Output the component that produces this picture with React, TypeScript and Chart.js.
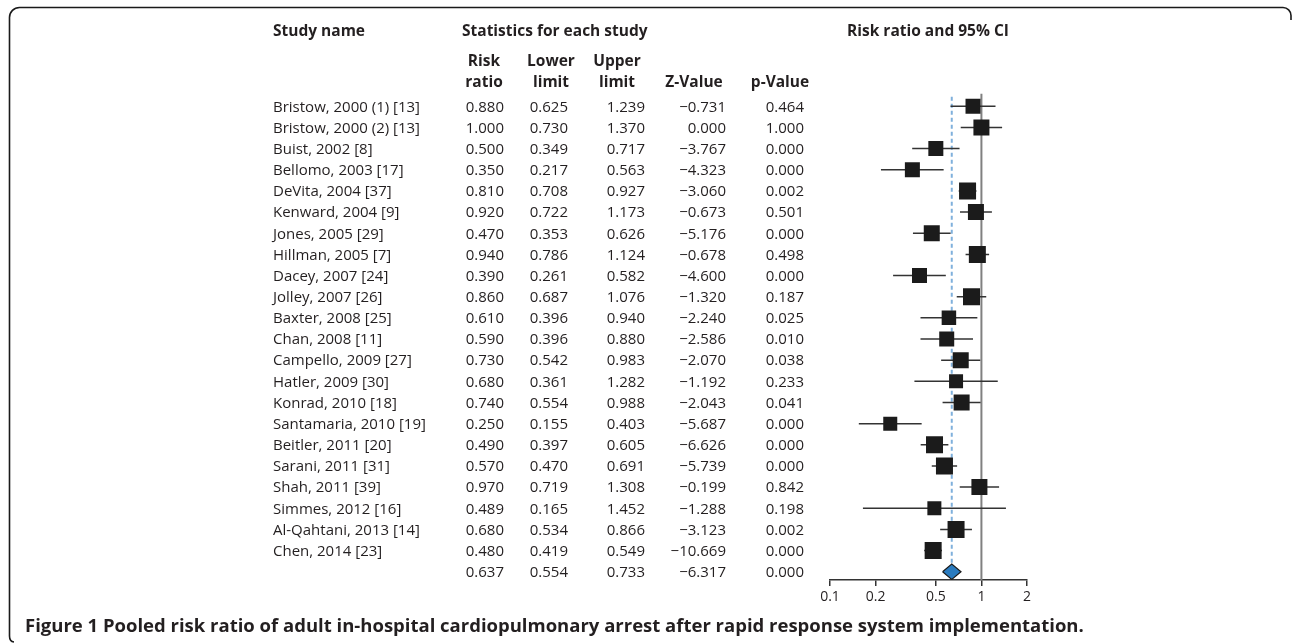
import React, { useEffect, useRef } from 'react';
import { Chart, registerables } from 'chart.js';

Chart.register(...registerables);

// ---------------- data ----------------
const studies = [
  'Bristow, 2000 (1) [13]',
  'Bristow, 2000 (2) [13]',
  'Buist, 2002 [8]',
  'Bellomo, 2003 [17]',
  'DeVita, 2004 [37]',
  'Kenward, 2004 [9]',
  'Jones, 2005 [29]',
  'Hillman, 2005 [7]',
  'Dacey, 2007 [24]',
  'Jolley, 2007 [26]',
  'Baxter, 2008 [25]',
  'Chan, 2008 [11]',
  'Campello, 2009 [27]',
  'Hatler, 2009 [30]',
  'Konrad, 2010 [18]',
  'Santamaria, 2010 [19]',
  'Beitler, 2011 [20]',
  'Sarani, 2011 [31]',
  'Shah, 2011 [39]',
  'Simmes, 2012 [16]',
  'Al-Qahtani, 2013 [14]',
  'Chen, 2014 [23]',
];
const riskRatio = [0.88, 1.0, 0.5, 0.35, 0.81, 0.92, 0.47, 0.94, 0.39, 0.86, 0.61, 0.59, 0.73, 0.68, 0.74, 0.25, 0.49, 0.57, 0.97, 0.489, 0.68, 0.48];
const lowerLimit = [0.625, 0.73, 0.349, 0.217, 0.708, 0.722, 0.353, 0.786, 0.261, 0.687, 0.396, 0.396, 0.542, 0.361, 0.554, 0.155, 0.397, 0.47, 0.719, 0.165, 0.534, 0.419];
const upperLimit = [1.239, 1.37, 0.717, 0.563, 0.927, 1.173, 0.626, 1.124, 0.582, 1.076, 0.94, 0.88, 0.983, 1.282, 0.988, 0.403, 0.605, 0.691, 1.308, 1.452, 0.866, 0.549];
const zValue = [-0.731, 0.0, -3.767, -4.323, -3.06, -0.673, -5.176, -0.678, -4.6, -1.32, -2.24, -2.586, -2.07, -1.192, -2.043, -5.687, -6.626, -5.739, -0.199, -1.288, -3.123, -10.669];
const pValue = [0.464, 1.0, 0.0, 0.0, 0.002, 0.501, 0.0, 0.498, 0.0, 0.187, 0.025, 0.01, 0.038, 0.233, 0.041, 0.0, 0.0, 0.0, 0.842, 0.198, 0.002, 0.0];
// square side (relative study weight), px
const squareSide = [15, 16, 15, 15, 17, 16, 16, 17, 15, 17, 14.5, 15, 16, 14, 16, 14, 17, 17, 16, 14, 17, 17];
// pooled: risk ratio, lower, upper
const pooledCI = [0.637, 0.554, 0.733];
const pooledZ = -6.317;
const pooledP = 0.0;
const xTicks = [0.1, 0.2, 0.5, 1, 2];

const FONT = '"Open Sans", "Noto Sans", sans-serif';
const TEXT = '#231f20';
const POOLED_ROW = studies.length; // 22
const Y_MIN = -0.6;
const Y_MAX = POOLED_ROW + 0.39;

const fmt = (v: number) => (v < 0 ? '\u2212' : '') + Math.abs(v).toFixed(3);

const tablePlugin = {
  id: 'forestTable',
  beforeDraw(chart: any) {
    const ctx = chart.ctx as CanvasRenderingContext2D;
    ctx.save();
    // frame
    ctx.strokeStyle = '#1a1a1a';
    ctx.lineWidth = 1.6;
    ctx.beginPath();
    ctx.moveTo(14, 642);
    ctx.quadraticCurveTo(9.5, 641.5, 9.5, 636);
    ctx.lineTo(9.5, 18);
    ctx.arcTo(9.5, 7.5, 20, 7.5, 10);
    ctx.lineTo(1283, 7.5);
    ctx.arcTo(1291, 7.5, 1291, 16, 8);
    ctx.lineTo(1291, 20);
    ctx.stroke();
    ctx.restore();
  },
  afterDraw(chart: any) {
    const ctx = chart.ctx as CanvasRenderingContext2D;
    const y = chart.scales.y;
    ctx.save();
    ctx.fillStyle = TEXT;
    ctx.textBaseline = 'middle';
    const put = (s: string, x: number, yy: number, align: CanvasTextAlign, bold = false, size = 15) => {
      ctx.font = `${bold ? 'bold ' : ''}${size}px ${FONT}`;
      ctx.textAlign = align;
      ctx.fillText(s, x, yy);
    };
    // headers
    const hs = 15.5;
    put('Study name', 273, 32, 'left', true, hs);
    put('Statistics for each study', 462, 32, 'left', true, hs);
    put('Risk ratio and 95% CI', 928, 32, 'center', true, hs);
    put('Risk', 484, 62, 'center', true, hs);
    put('ratio', 484, 83, 'center', true, hs);
    put('Lower', 551, 62, 'center', true, hs);
    put('limit', 551, 83, 'center', true, hs);
    put('Upper', 617, 62, 'center', true, hs);
    put('limit', 617, 83, 'center', true, hs);
    put('Z-Value', 694, 83, 'center', true, hs);
    put('p-Value', 780, 83, 'center', true, hs);
    const cols = [504, 568, 645, 726, 804];
    studies.forEach((s, i) => {
      const yy = y.getPixelForValue(i) + 1;
      put(s, 273, yy, 'left');
      put(riskRatio[i].toFixed(3), cols[0], yy, 'right');
      put(lowerLimit[i].toFixed(3), cols[1], yy, 'right');
      put(upperLimit[i].toFixed(3), cols[2], yy, 'right');
      put(fmt(zValue[i]), cols[3], yy, 'right');
      put(pValue[i].toFixed(3), cols[4], yy, 'right');
    });
    const py = y.getPixelForValue(POOLED_ROW) + 1;
    put(pooledCI[0].toFixed(3), cols[0], py, 'right');
    put(pooledCI[1].toFixed(3), cols[1], py, 'right');
    put(pooledCI[2].toFixed(3), cols[2], py, 'right');
    put(fmt(pooledZ), cols[3], py, 'right');
    put(pooledP.toFixed(3), cols[4], py, 'right');
    // caption
    put('Figure 1 Pooled risk ratio of adult in-hospital cardiopulmonary arrest after rapid response system implementation.', 25, 627, 'left', true, 18.5);
    ctx.restore();
  },
};

export default function App() {
  const ref = useRef<HTMLCanvasElement | null>(null);
  useEffect(() => {
    document.body.style.margin = '0';
    if (!ref.current) return;
    const datasets: any[] = [];
    // pooled diamond (on top)
    datasets.push({
      type: 'line',
      data: [
        { x: pooledCI[1], y: POOLED_ROW },
        { x: pooledCI[0], y: POOLED_ROW - 0.36 },
        { x: pooledCI[2], y: POOLED_ROW },
        { x: pooledCI[0], y: POOLED_ROW + 0.36 },
        { x: pooledCI[1], y: POOLED_ROW },
      ],
      borderColor: '#1a1a1a',
      borderWidth: 1.2,
      backgroundColor: '#2a7bbf',
      fill: 'shape',
      pointRadius: 0,
      tension: 0,
      order: 0,
    });
    // study squares
    datasets.push({
      type: 'scatter',
      data: riskRatio.map((v, i) => ({ x: v, y: i })),
      pointStyle: 'rect',
      pointRadius: squareSide.map((s) => s / Math.SQRT2),
      backgroundColor: '#1b1b1b',
      borderWidth: 0,
      order: 1,
    });
    // confidence intervals
    studies.forEach((_, i) => {
      datasets.push({
        type: 'line',
        data: [
          { x: lowerLimit[i], y: i },
          { x: upperLimit[i], y: i },
        ],
        borderColor: '#333333',
        borderWidth: 1.5,
        pointRadius: 0,
        order: 2,
      });
    });
    // pooled estimate dashed line
    datasets.push({
      type: 'line',
      data: [
        { x: pooledCI[0], y: -0.45 },
        { x: pooledCI[0], y: POOLED_ROW - 0.3 },
      ],
      borderColor: '#7fb0dc',
      borderWidth: 2,
      borderDash: [4, 3],
      pointRadius: 0,
      order: 3,
    });
    // null line at 1
    datasets.push({
      type: 'line',
      data: [
        { x: 1, y: Y_MIN },
        { x: 1, y: Y_MAX },
      ],
      borderColor: '#808080',
      borderWidth: 2,
      pointRadius: 0,
      order: 4,
    });

    const chart = new Chart(ref.current, {
      type: 'scatter',
      data: { datasets },
      plugins: [tablePlugin],
      options: {
        animation: false,
        responsive: false,
        devicePixelRatio: 1,
        layout: { padding: { left: 830, right: 265, top: 93.6, bottom: 34 } },
        plugins: { legend: { display: false }, tooltip: { enabled: false } },
        scales: {
          x: {
            type: 'logarithmic',
            min: 0.1,
            max: 2,
            afterBuildTicks: (s: any) => {
              s.ticks = xTicks.map((v) => ({ value: v }));
            },
            afterFit: (s: any) => {
              s.height = 30;
            },
            ticks: {
              autoSkip: false,
              maxRotation: 0,
              padding: 3,
              color: TEXT,
              font: { family: FONT, size: 14 },
              callback: (v: any) => String(v),
            },
            grid: {
              drawOnChartArea: false,
              drawTicks: true,
              tickLength: 6,
              color: '#333333',
              lineWidth: 1.5,
            },
            border: { display: true, color: '#333333', width: 1.5 },
          },
          y: {
            type: 'linear',
            reverse: true,
            min: Y_MIN,
            max: Y_MAX,
            display: false,
          },
        },
      },
    });
    return () => chart.destroy();
  }, []);
  return (
    <div style={{ position: 'absolute', left: 0, top: 0, width: 1292, height: 644, background: '#fff' }}>
      <canvas ref={ref} width={1292} height={644} style={{ display: 'block' }} />
    </div>
  );
}
